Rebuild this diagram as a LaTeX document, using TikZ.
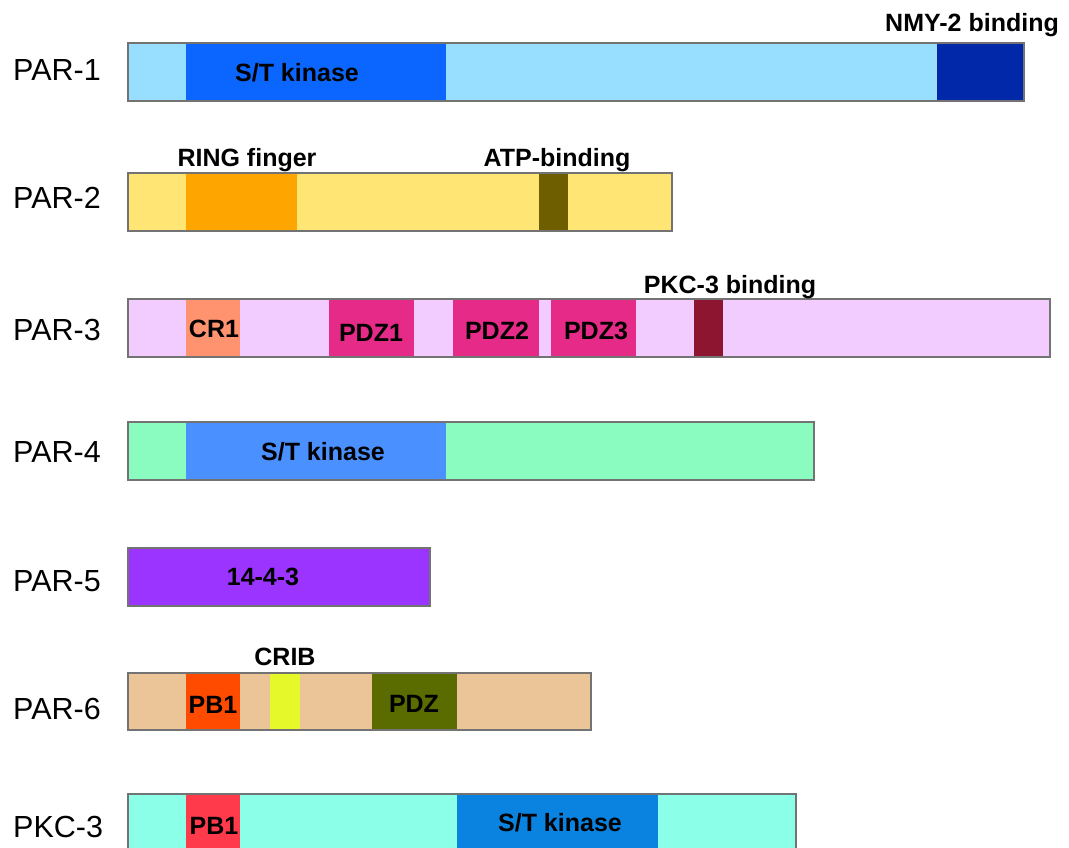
\documentclass[tikz,border=0pt]{standalone}
\usepackage{fontspec}
\setmainfont{Liberation Sans}

\definecolor{parOneLight}{HTML}{97DEFF}
\definecolor{parOneKinase}{HTML}{0A66FF}
\definecolor{nmyBinding}{HTML}{0028A8}
\definecolor{parTwoLight}{HTML}{FFE573}
\definecolor{ringFinger}{HTML}{FFA500}
\definecolor{atpBinding}{HTML}{6E5E00}
\definecolor{parThreeLight}{HTML}{F2CCFF}
\definecolor{crOne}{HTML}{FF9370}
\definecolor{pdzPink}{HTML}{E62A87}
\definecolor{pkcBinding}{HTML}{8E1530}
\definecolor{parFourLight}{HTML}{8BFCC0}
\definecolor{parFourKinase}{HTML}{4A90FF}
\definecolor{parFive}{HTML}{9B34FF}
\definecolor{parSixLight}{HTML}{EBC598}
\definecolor{pbOneOrange}{HTML}{FF4B00}
\definecolor{crib}{HTML}{E5F92A}
\definecolor{pdzOlive}{HTML}{5A6B00}
\definecolor{pkcLight}{HTML}{8CFFE8}
\definecolor{pbOneRed}{HTML}{FF3A4A}
\definecolor{pkcKinase}{HTML}{0A82E0}

\tikzset{
  proteinname/.style={anchor=base west, inner sep=0pt, font=\fontsize{30.5}{36}\selectfont},
  domaintext/.style={anchor=base, inner sep=0pt, font=\fontsize{25}{30}\selectfont\bfseries},
  bar/.style={draw=black!55, line width=1.5pt},
}

\begin{document}
\begin{tikzpicture}[x=1pt, y=-1pt]
\useasboundingbox (0,0) rectangle (1069,848);
\clip (0,0) rectangle (1069,848);

% PAR-1
\fill[parOneLight] (128,43) rectangle (1024,101);
\fill[parOneKinase] (186,43) rectangle (446,101);
\fill[nmyBinding] (937,43) rectangle (1024,101);
\draw[bar] (128,43) rectangle (1024,101);
\node[proteinname] (parone) at (13,81) {PAR-1};
\node[domaintext] (parone kinase) at (297,82) {S/T kinase};
\node[domaintext] (nmy) at (972,32) {NMY-2 binding};

% PAR-2
\fill[parTwoLight] (128,173) rectangle (672,231);
\fill[ringFinger] (186,173) rectangle (297,231);
\fill[atpBinding] (539,173) rectangle (568,231);
\draw[bar] (128,173) rectangle (672,231);
\node[proteinname] (partwo) at (13,208) {PAR-2};
\node[domaintext] (ring) at (247,167) {RING finger};
\node[domaintext] (atp) at (557,167) {ATP-binding};

% PAR-3
\fill[parThreeLight] (128,299) rectangle (1050,357);
\fill[crOne] (186,299) rectangle (240,357);
\fill[pdzPink] (329,299) rectangle (414,357);
\fill[pdzPink] (453,299) rectangle (539,357);
\fill[pdzPink] (551,299) rectangle (636,357);
\fill[pkcBinding] (694,299) rectangle (723,357);
\draw[bar] (128,299) rectangle (1050,357);
\node[proteinname] (parthree) at (13,340) {PAR-3};
\node[domaintext] (cr) at (214,337) {CR1};
\node[domaintext] (pdza) at (371,341) {PDZ1};
\node[domaintext] (pdzb) at (497,339) {PDZ2};
\node[domaintext] (pdzc) at (596,339) {PDZ3};
\node[domaintext] (pkcbind) at (730,293) {PKC-3 binding};

% PAR-4
\fill[parFourLight] (128,422) rectangle (814,480);
\fill[parFourKinase] (186,422) rectangle (446,480);
\draw[bar] (128,422) rectangle (814,480);
\node[proteinname] (parfour) at (13,462) {PAR-4};
\node[domaintext] (parfour kinase) at (323,460) {S/T kinase};

% PAR-5
\fill[parFive] (128,548) rectangle (430,606);
\draw[bar] (128,548) rectangle (430,606);
\node[proteinname] (parfive) at (13,591) {PAR-5};
\node[domaintext] (fourteen) at (263,585) {14-4-3};

% PAR-6
\fill[parSixLight] (128,673) rectangle (591,730);
\fill[pbOneOrange] (186,673) rectangle (240,730);
\fill[crib] (270,673) rectangle (300,730);
\fill[pdzOlive] (372,673) rectangle (457,730);
\draw[bar] (128,673) rectangle (591,730);
\node[proteinname] (parsix) at (13,719) {PAR-6};
\node[domaintext] (parsix pb) at (213,713) {PB1};
\node[domaintext] (cribname) at (285,665) {CRIB};
\node[domaintext] (parsix pdz) at (414,712) {PDZ};

% PKC-3
\fill[pkcLight] (128,794) rectangle (796,852);
\fill[pbOneRed] (186,794) rectangle (240,852);
\fill[pkcKinase] (457,794) rectangle (658,852);
\draw[bar] (128,794) rectangle (796,852);
\node[proteinname] (pkc) at (13,837) {PKC-3};
\node[domaintext] (pkc pb) at (214,834) {PB1};
\node[domaintext] (pkc kinase) at (560,831) {S/T kinase};
\end{tikzpicture}
\end{document}
